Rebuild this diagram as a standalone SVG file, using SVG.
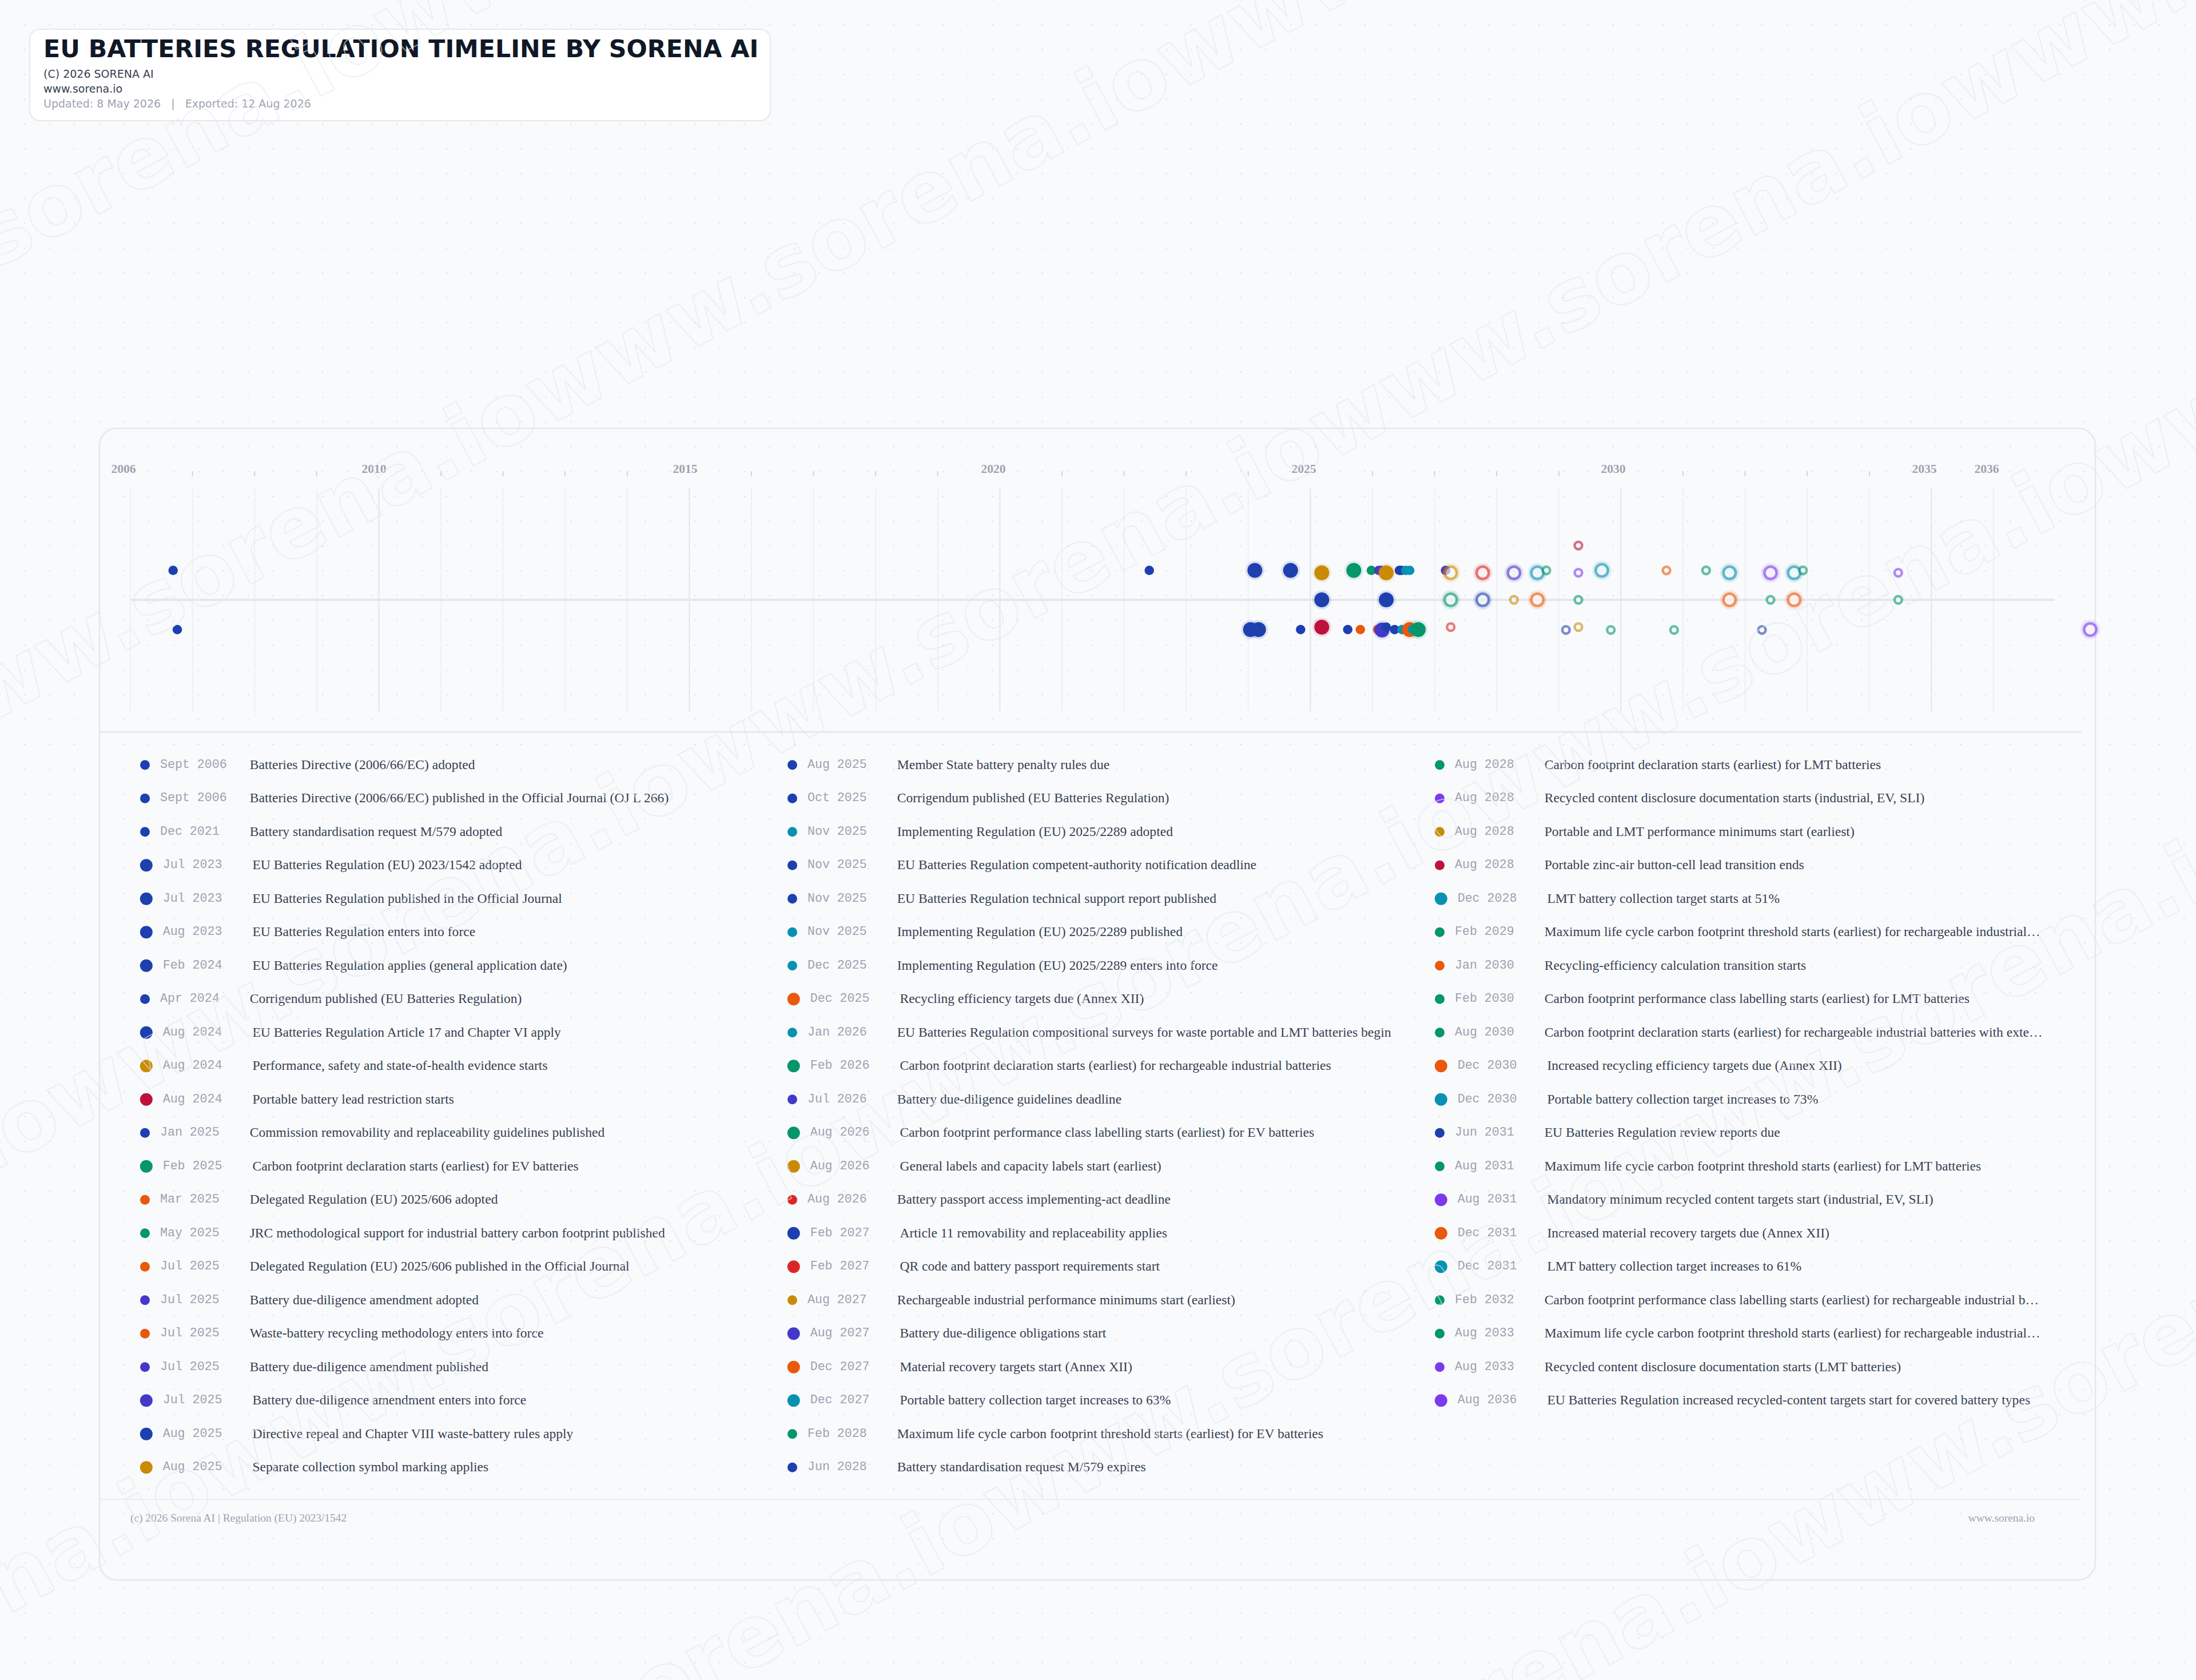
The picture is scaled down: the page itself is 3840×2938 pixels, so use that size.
<svg xmlns="http://www.w3.org/2000/svg" width="3840" height="2938" viewBox="0 0 3840 2938">
<style>
.t-title{font-family:"DejaVu Sans",sans-serif;font-weight:bold;font-size:42.7px;fill:#111827}
.t-sub{font-family:"DejaVu Sans",sans-serif;font-size:19px;fill:#374151}
.t-meta{font-family:"DejaVu Sans",sans-serif;font-size:19px;fill:#9ca3af;white-space:pre}
.yr{font-family:"Liberation Serif",serif;font-weight:bold;font-size:21.6px;fill:#9ca3af;text-anchor:middle}
.gmin{stroke:#eef1f4;stroke-width:2}
.gmaj{stroke:#e2e5e9;stroke-width:2}
.tick{stroke:#d1d5db;stroke-width:2}
.axis{stroke:#e5e7eb;stroke-width:4}
.ld{font-family:"Liberation Mono",monospace;font-size:21.6px;fill:#9ca3af}
.ll{font-family:"Liberation Serif",serif;font-size:23.6px;fill:#374151}
.ft{font-family:"Liberation Serif",serif;font-size:19.4px;fill:#9ca3af}
.wm{font-family:"DejaVu Sans",sans-serif;font-weight:bold;font-size:150px;fill:none;stroke:#e3e7ec;stroke-width:1.8;opacity:.6}
.blue{fill:#1e40af}.gold{fill:#ca8a04}.crim{fill:#be123c}.green{fill:#059669}.orange{fill:#ea580c}.indigo{fill:#4338ca}.teal{fill:#0891b2}.red{fill:#dc2626}.purple{fill:#7c3aed}
.s-blue{stroke:#1e40af}.s-gold{stroke:#ca8a04}.s-crim{stroke:#be123c}.s-green{stroke:#059669}.s-orange{stroke:#ea580c}.s-indigo{stroke:#4338ca}.s-teal{stroke:#0891b2}.s-red{stroke:#dc2626}.s-purple{stroke:#7c3aed}
.halo{opacity:.13}
.ring{fill:#ffffff;stroke-width:4.6;opacity:.58}
</style>
<defs>
<pattern id="dotgrid" x="-21.7" y="-21.7" width="43.4" height="43.4" patternUnits="userSpaceOnUse">
<circle cx="21.7" cy="21.7" r="1.1" fill="#cfd5dd"/>
</pattern>
</defs>
<rect width="3840" height="2938" fill="#f8fafc"/>
<rect width="3840" height="2938" fill="url(#dotgrid)"/>

<g id="header">
<rect x="52" y="51" width="1295" height="160" rx="18" fill="#ffffff" stroke="#e5e7eb" stroke-width="2"/>
<text x="76" y="100" class="t-title">EU BATTERIES REGULATION TIMELINE BY SORENA AI</text>
<text x="76" y="136" class="t-sub">(C) 2026 SORENA AI</text>
<text x="76" y="162" class="t-sub">www.sorena.io</text>
<text x="76" y="188" class="t-meta">Updated: 8 May 2026   |   Exported: 12 Aug 2026</text>
</g>

<g id="timeline-card">
<rect x="174" y="749" width="3490" height="2014" rx="30" fill="none" stroke="#e5e7eb" stroke-width="2.5"/>
<line x1="174" y1="1280" x2="3640" y2="1280" stroke="#e5e7eb" stroke-width="3"/>
<line x1="174" y1="2622" x2="3640" y2="2622" stroke="#eceef1" stroke-width="2"/>
</g>

<g id="grid">
<line class="gmin" x1="228" y1="854" x2="228" y2="1244"/>
<line class="gmin" x1="336.6" y1="854" x2="336.6" y2="1244"/>
<line class="gmin" x1="445.2" y1="854" x2="445.2" y2="1244"/>
<line class="gmin" x1="553.8" y1="854" x2="553.8" y2="1244"/>
<line class="gmaj" x1="662.4" y1="854" x2="662.4" y2="1244"/>
<line class="gmin" x1="771" y1="854" x2="771" y2="1244"/>
<line class="gmin" x1="879.6" y1="854" x2="879.6" y2="1244"/>
<line class="gmin" x1="988.2" y1="854" x2="988.2" y2="1244"/>
<line class="gmin" x1="1096.8" y1="854" x2="1096.8" y2="1244"/>
<line class="gmaj" x1="1205.4" y1="854" x2="1205.4" y2="1244"/>
<line class="gmin" x1="1314" y1="854" x2="1314" y2="1244"/>
<line class="gmin" x1="1422.6" y1="854" x2="1422.6" y2="1244"/>
<line class="gmin" x1="1531.2" y1="854" x2="1531.2" y2="1244"/>
<line class="gmin" x1="1639.8" y1="854" x2="1639.8" y2="1244"/>
<line class="gmaj" x1="1748.4" y1="854" x2="1748.4" y2="1244"/>
<line class="gmin" x1="1857" y1="854" x2="1857" y2="1244"/>
<line class="gmin" x1="1965.6" y1="854" x2="1965.6" y2="1244"/>
<line class="gmin" x1="2074.2" y1="854" x2="2074.2" y2="1244"/>
<line class="gmin" x1="2182.8" y1="854" x2="2182.8" y2="1244"/>
<line class="gmaj" x1="2291.4" y1="854" x2="2291.4" y2="1244"/>
<line class="gmin" x1="2400" y1="854" x2="2400" y2="1244"/>
<line class="gmin" x1="2508.6" y1="854" x2="2508.6" y2="1244"/>
<line class="gmin" x1="2617.2" y1="854" x2="2617.2" y2="1244"/>
<line class="gmin" x1="2725.8" y1="854" x2="2725.8" y2="1244"/>
<line class="gmaj" x1="2834.4" y1="854" x2="2834.4" y2="1244"/>
<line class="gmin" x1="2943" y1="854" x2="2943" y2="1244"/>
<line class="gmin" x1="3051.6" y1="854" x2="3051.6" y2="1244"/>
<line class="gmin" x1="3160.2" y1="854" x2="3160.2" y2="1244"/>
<line class="gmin" x1="3268.8" y1="854" x2="3268.8" y2="1244"/>
<line class="gmaj" x1="3377.4" y1="854" x2="3377.4" y2="1244"/>
<line class="gmin" x1="3486" y1="854" x2="3486" y2="1244"/>
</g>

<g id="ticks">
<line class="tick" x1="336.6" y1="824" x2="336.6" y2="833"/>
<line class="tick" x1="445.2" y1="824" x2="445.2" y2="833"/>
<line class="tick" x1="553.8" y1="824" x2="553.8" y2="833"/>
<line class="tick" x1="771" y1="824" x2="771" y2="833"/>
<line class="tick" x1="879.6" y1="824" x2="879.6" y2="833"/>
<line class="tick" x1="988.2" y1="824" x2="988.2" y2="833"/>
<line class="tick" x1="1096.8" y1="824" x2="1096.8" y2="833"/>
<line class="tick" x1="1314" y1="824" x2="1314" y2="833"/>
<line class="tick" x1="1422.6" y1="824" x2="1422.6" y2="833"/>
<line class="tick" x1="1531.2" y1="824" x2="1531.2" y2="833"/>
<line class="tick" x1="1639.8" y1="824" x2="1639.8" y2="833"/>
<line class="tick" x1="1857" y1="824" x2="1857" y2="833"/>
<line class="tick" x1="1965.6" y1="824" x2="1965.6" y2="833"/>
<line class="tick" x1="2074.2" y1="824" x2="2074.2" y2="833"/>
<line class="tick" x1="2182.8" y1="824" x2="2182.8" y2="833"/>
<line class="tick" x1="2400" y1="824" x2="2400" y2="833"/>
<line class="tick" x1="2508.6" y1="824" x2="2508.6" y2="833"/>
<line class="tick" x1="2617.2" y1="824" x2="2617.2" y2="833"/>
<line class="tick" x1="2725.8" y1="824" x2="2725.8" y2="833"/>
<line class="tick" x1="2943" y1="824" x2="2943" y2="833"/>
<line class="tick" x1="3051.6" y1="824" x2="3051.6" y2="833"/>
<line class="tick" x1="3160.2" y1="824" x2="3160.2" y2="833"/>
<line class="tick" x1="3268.8" y1="824" x2="3268.8" y2="833"/>
</g>

<g id="year-labels">
<text class="yr" x="216" y="827">2006</text>
<text class="yr" x="654" y="827">2010</text>
<text class="yr" x="1198" y="827">2015</text>
<text class="yr" x="1737" y="827">2020</text>
<text class="yr" x="2280" y="827">2025</text>
<text class="yr" x="2821" y="827">2030</text>
<text class="yr" x="3365" y="827">2035</text>
<text class="yr" x="3474" y="827">2036</text>
</g>

<g id="connectors">
<line class="axis" x1="228" y1="1049" x2="3593" y2="1049"/>
</g>

<g id="timeline-nodes">
<g id="ev01" transform="translate(302.7,997.5)"><circle r="8.3" class="blue"/></g>
<g id="ev02" transform="translate(310,1101)"><circle r="8.3" class="blue"/></g>
<g id="ev03" transform="translate(2009.7,997.5)"><circle r="8.3" class="blue"/></g>
<g id="ev04" transform="translate(2186.7,1101)"><circle r="16.7" class="blue halo"/><circle r="13" class="blue"/></g>
<g id="ev05" transform="translate(2194.3,997.5)"><circle r="16.7" class="blue halo"/><circle r="13" class="blue"/></g>
<g id="ev06" transform="translate(2200.7,1101)"><circle r="16.7" class="blue halo"/><circle r="13" class="blue"/></g>
<g id="ev07" transform="translate(2256.7,997.5)"><circle r="16.7" class="blue halo"/><circle r="13" class="blue"/></g>
<g id="ev08" transform="translate(2274.3,1101)"><circle r="8.3" class="blue"/></g>
<g id="ev09" transform="translate(2311.3,1049)"><circle r="16.7" class="blue halo"/><circle r="13" class="blue"/></g>
<g id="ev10" transform="translate(2311.3,1001.7)"><circle r="16.7" class="gold halo"/><circle r="13" class="gold"/></g>
<g id="ev11" transform="translate(2311.3,1096.7)"><circle r="16.7" class="crim halo"/><circle r="13" class="crim"/></g>
<g id="ev12" transform="translate(2356.7,1101)"><circle r="8.3" class="blue"/></g>
<g id="ev13" transform="translate(2367.3,997.5)"><circle r="16.7" class="green halo"/><circle r="13" class="green"/></g>
<g id="ev14" transform="translate(2378.7,1101)"><circle r="8.3" class="orange"/></g>
<g id="ev15" transform="translate(2398,997.5)"><circle r="8.3" class="green"/></g>
<g id="ev16" transform="translate(2409,1101)"><circle r="8.3" class="orange"/></g>
<g id="ev17" transform="translate(2411,997.5)"><circle r="8.3" class="indigo"/></g>
<g id="ev18" transform="translate(2412,1101)"><circle r="8.3" class="orange"/></g>
<g id="ev19" transform="translate(2415,997.5)"><circle r="8.3" class="indigo"/></g>
<g id="ev20" transform="translate(2416.7,1101.7)"><circle r="16.7" class="indigo halo"/><circle r="13" class="indigo"/></g>
<g id="ev21" transform="translate(2424,1049)"><circle r="16.7" class="blue halo"/><circle r="13" class="blue"/></g>
<g id="ev22" transform="translate(2424,1001.7)"><circle r="16.7" class="gold halo"/><circle r="13" class="gold"/></g>
<g id="ev23" transform="translate(2424,1096.7)"><circle r="8.3" class="blue"/></g>
<g id="ev24" transform="translate(2438.7,1101)"><circle r="8.3" class="blue"/></g>
<g id="ev25" transform="translate(2451.7,1101)"><circle r="8.3" class="teal"/></g>
<g id="ev26" transform="translate(2447,997.5)"><circle r="8.3" class="blue"/></g>
<g id="ev27" transform="translate(2450.7,997.5)"><circle r="8.3" class="blue"/></g>
<g id="ev28" transform="translate(2458.3,997.5)"><circle r="8.3" class="teal"/></g>
<g id="ev29" transform="translate(2465,997.5)"><circle r="8.3" class="teal"/></g>
<g id="ev30" transform="translate(2465,1101)"><circle r="16.7" class="orange halo"/><circle r="13" class="orange"/></g>
<g id="ev31" transform="translate(2470,1101)"><circle r="8.3" class="teal"/></g>
<g id="ev32" transform="translate(2480,1101)"><circle r="16.7" class="green halo"/><circle r="13" class="green"/></g>
<g id="ev33" transform="translate(2527.7,997.5)"><circle r="8.3" class="indigo"/></g>
<g id="ev34" transform="translate(2536.7,1049)"><circle r="16.7" class="green halo"/><circle r="10.7" class="ring s-green"/></g>
<g id="ev35" transform="translate(2536.7,1001.7)"><circle r="16.7" class="gold halo"/><circle r="10.7" class="ring s-gold"/></g>
<g id="ev36" transform="translate(2536.7,1096.7)"><circle r="6.4" class="ring s-red"/></g>
<g id="ev37" transform="translate(2592.7,1049)"><circle r="16.7" class="blue halo"/><circle r="10.7" class="ring s-blue"/></g>
<g id="ev38" transform="translate(2592.7,1001.7)"><circle r="16.7" class="red halo"/><circle r="10.7" class="ring s-red"/></g>
<g id="ev39" transform="translate(2647.3,1049)"><circle r="6.4" class="ring s-gold"/></g>
<g id="ev40" transform="translate(2647.3,1001.7)"><circle r="16.7" class="indigo halo"/><circle r="10.7" class="ring s-indigo"/></g>
<g id="ev41" transform="translate(2688.3,1049)"><circle r="16.7" class="orange halo"/><circle r="10.7" class="ring s-orange"/></g>
<g id="ev42" transform="translate(2688.3,1001.7)"><circle r="16.7" class="teal halo"/><circle r="10.7" class="ring s-teal"/></g>
<g id="ev43" transform="translate(2704,997.5)"><circle r="6.4" class="ring s-green"/></g>
<g id="ev44" transform="translate(2738.3,1101.7)"><circle r="6.4" class="ring s-blue"/></g>
<g id="ev45" transform="translate(2760,1049)"><circle r="6.4" class="ring s-green"/></g>
<g id="ev46" transform="translate(2760,1001.7)"><circle r="6.4" class="ring s-purple"/></g>
<g id="ev47" transform="translate(2760,1096.7)"><circle r="6.4" class="ring s-gold"/></g>
<g id="ev48" transform="translate(2760,954)"><circle r="6.4" class="ring s-crim"/></g>
<g id="ev49" transform="translate(2801,997.5)"><circle r="16.7" class="teal halo"/><circle r="10.7" class="ring s-teal"/></g>
<g id="ev50" transform="translate(2816.7,1101.7)"><circle r="6.4" class="ring s-green"/></g>
<g id="ev51" transform="translate(2914,997.5)"><circle r="6.4" class="ring s-orange"/></g>
<g id="ev52" transform="translate(2927.3,1101.7)"><circle r="6.4" class="ring s-green"/></g>
<g id="ev53" transform="translate(2983.3,997.5)"><circle r="6.4" class="ring s-green"/></g>
<g id="ev54" transform="translate(3024.3,1049)"><circle r="16.7" class="orange halo"/><circle r="10.7" class="ring s-orange"/></g>
<g id="ev55" transform="translate(3024.3,1001.7)"><circle r="16.7" class="teal halo"/><circle r="10.7" class="ring s-teal"/></g>
<g id="ev56" transform="translate(3081,1101.7)"><circle r="6.4" class="ring s-blue"/></g>
<g id="ev57" transform="translate(3096,1049)"><circle r="6.4" class="ring s-green"/></g>
<g id="ev58" transform="translate(3096,1001.7)"><circle r="16.7" class="purple halo"/><circle r="10.7" class="ring s-purple"/></g>
<g id="ev59" transform="translate(3137.3,1049)"><circle r="16.7" class="orange halo"/><circle r="10.7" class="ring s-orange"/></g>
<g id="ev60" transform="translate(3137.3,1001.7)"><circle r="16.7" class="teal halo"/><circle r="10.7" class="ring s-teal"/></g>
<g id="ev61" transform="translate(3152.7,997.5)"><circle r="6.4" class="ring s-green"/></g>
<g id="ev62" transform="translate(3319.3,1049)"><circle r="6.4" class="ring s-green"/></g>
<g id="ev63" transform="translate(3319.3,1001.7)"><circle r="6.4" class="ring s-purple"/></g>
<g id="ev64" transform="translate(3655,1101)"><circle r="16.7" class="purple halo"/><circle r="10.7" class="ring s-purple"/></g>
</g>

<g id="legend">
<g id="lg1-01" transform="translate(244.8,1337.7)"><circle cx="8.7" r="8.5" class="blue"/><text x="35.2" y="5" class="ld">Sept 2006</text><text x="191.9" y="7" class="ll">Batteries Directive (2006/66/EC) adopted</text></g>
<g id="lg1-02" transform="translate(244.8,1396.2)"><circle cx="8.7" r="8.5" class="blue"/><text x="35.2" y="5" class="ld">Sept 2006</text><text x="191.9" y="7" class="ll">Batteries Directive (2006/66/EC) published in the Official Journal (OJ L 266)</text></g>
<g id="lg1-03" transform="translate(244.8,1454.7)"><circle cx="8.7" r="8.5" class="blue"/><text x="35.2" y="5" class="ld">Dec 2021</text><text x="191.9" y="7" class="ll">Battery standardisation request M/579 adopted</text></g>
<g id="lg1-04" transform="translate(244.8,1513.2)"><circle cx="11" r="11" class="blue"/><text x="39.9" y="5" class="ld">Jul 2023</text><text x="196.6" y="7" class="ll">EU Batteries Regulation (EU) 2023/1542 adopted</text></g>
<g id="lg1-05" transform="translate(244.8,1571.7)"><circle cx="11" r="11" class="blue"/><text x="39.9" y="5" class="ld">Jul 2023</text><text x="196.6" y="7" class="ll">EU Batteries Regulation published in the Official Journal</text></g>
<g id="lg1-06" transform="translate(244.8,1630.2)"><circle cx="11" r="11" class="blue"/><text x="39.9" y="5" class="ld">Aug 2023</text><text x="196.6" y="7" class="ll">EU Batteries Regulation enters into force</text></g>
<g id="lg1-07" transform="translate(244.8,1688.7)"><circle cx="11" r="11" class="blue"/><text x="39.9" y="5" class="ld">Feb 2024</text><text x="196.6" y="7" class="ll">EU Batteries Regulation applies (general application date)</text></g>
<g id="lg1-08" transform="translate(244.8,1747.2)"><circle cx="8.7" r="8.5" class="blue"/><text x="35.2" y="5" class="ld">Apr 2024</text><text x="191.9" y="7" class="ll">Corrigendum published (EU Batteries Regulation)</text></g>
<g id="lg1-09" transform="translate(244.8,1805.7)"><circle cx="11" r="11" class="blue"/><text x="39.9" y="5" class="ld">Aug 2024</text><text x="196.6" y="7" class="ll">EU Batteries Regulation Article 17 and Chapter VI apply</text></g>
<g id="lg1-10" transform="translate(244.8,1864.2)"><circle cx="11" r="11" class="gold"/><text x="39.9" y="5" class="ld">Aug 2024</text><text x="196.6" y="7" class="ll">Performance, safety and state-of-health evidence starts</text></g>
<g id="lg1-11" transform="translate(244.8,1922.7)"><circle cx="11" r="11" class="crim"/><text x="39.9" y="5" class="ld">Aug 2024</text><text x="196.6" y="7" class="ll">Portable battery lead restriction starts</text></g>
<g id="lg1-12" transform="translate(244.8,1981.2)"><circle cx="8.7" r="8.5" class="blue"/><text x="35.2" y="5" class="ld">Jan 2025</text><text x="191.9" y="7" class="ll">Commission removability and replaceability guidelines published</text></g>
<g id="lg1-13" transform="translate(244.8,2039.7)"><circle cx="11" r="11" class="green"/><text x="39.9" y="5" class="ld">Feb 2025</text><text x="196.6" y="7" class="ll">Carbon footprint declaration starts (earliest) for EV batteries</text></g>
<g id="lg1-14" transform="translate(244.8,2098.2)"><circle cx="8.7" r="8.5" class="orange"/><text x="35.2" y="5" class="ld">Mar 2025</text><text x="191.9" y="7" class="ll">Delegated Regulation (EU) 2025/606 adopted</text></g>
<g id="lg1-15" transform="translate(244.8,2156.7)"><circle cx="8.7" r="8.5" class="green"/><text x="35.2" y="5" class="ld">May 2025</text><text x="191.9" y="7" class="ll">JRC methodological support for industrial battery carbon footprint published</text></g>
<g id="lg1-16" transform="translate(244.8,2215.2)"><circle cx="8.7" r="8.5" class="orange"/><text x="35.2" y="5" class="ld">Jul 2025</text><text x="191.9" y="7" class="ll">Delegated Regulation (EU) 2025/606 published in the Official Journal</text></g>
<g id="lg1-17" transform="translate(244.8,2273.7)"><circle cx="8.7" r="8.5" class="indigo"/><text x="35.2" y="5" class="ld">Jul 2025</text><text x="191.9" y="7" class="ll">Battery due-diligence amendment adopted</text></g>
<g id="lg1-18" transform="translate(244.8,2332.2)"><circle cx="8.7" r="8.5" class="orange"/><text x="35.2" y="5" class="ld">Jul 2025</text><text x="191.9" y="7" class="ll">Waste-battery recycling methodology enters into force</text></g>
<g id="lg1-19" transform="translate(244.8,2390.7)"><circle cx="8.7" r="8.5" class="indigo"/><text x="35.2" y="5" class="ld">Jul 2025</text><text x="191.9" y="7" class="ll">Battery due-diligence amendment published</text></g>
<g id="lg1-20" transform="translate(244.8,2449.2)"><circle cx="11" r="11" class="indigo"/><text x="39.9" y="5" class="ld">Jul 2025</text><text x="196.6" y="7" class="ll">Battery due-diligence amendment enters into force</text></g>
<g id="lg1-21" transform="translate(244.8,2507.7)"><circle cx="11" r="11" class="blue"/><text x="39.9" y="5" class="ld">Aug 2025</text><text x="196.6" y="7" class="ll">Directive repeal and Chapter VIII waste-battery rules apply</text></g>
<g id="lg1-22" transform="translate(244.8,2566.2)"><circle cx="11" r="11" class="gold"/><text x="39.9" y="5" class="ld">Aug 2025</text><text x="196.6" y="7" class="ll">Separate collection symbol marking applies</text></g>

<g id="lg2-01" transform="translate(1376.8,1337.7)"><circle cx="8.7" r="8.5" class="blue"/><text x="35.2" y="5" class="ld">Aug 2025</text><text x="191.9" y="7" class="ll">Member State battery penalty rules due</text></g>
<g id="lg2-02" transform="translate(1376.8,1396.2)"><circle cx="8.7" r="8.5" class="blue"/><text x="35.2" y="5" class="ld">Oct 2025</text><text x="191.9" y="7" class="ll">Corrigendum published (EU Batteries Regulation)</text></g>
<g id="lg2-03" transform="translate(1376.8,1454.7)"><circle cx="8.7" r="8.5" class="teal"/><text x="35.2" y="5" class="ld">Nov 2025</text><text x="191.9" y="7" class="ll">Implementing Regulation (EU) 2025/2289 adopted</text></g>
<g id="lg2-04" transform="translate(1376.8,1513.2)"><circle cx="8.7" r="8.5" class="blue"/><text x="35.2" y="5" class="ld">Nov 2025</text><text x="191.9" y="7" class="ll">EU Batteries Regulation competent-authority notification deadline</text></g>
<g id="lg2-05" transform="translate(1376.8,1571.7)"><circle cx="8.7" r="8.5" class="blue"/><text x="35.2" y="5" class="ld">Nov 2025</text><text x="191.9" y="7" class="ll">EU Batteries Regulation technical support report published</text></g>
<g id="lg2-06" transform="translate(1376.8,1630.2)"><circle cx="8.7" r="8.5" class="teal"/><text x="35.2" y="5" class="ld">Nov 2025</text><text x="191.9" y="7" class="ll">Implementing Regulation (EU) 2025/2289 published</text></g>
<g id="lg2-07" transform="translate(1376.8,1688.7)"><circle cx="8.7" r="8.5" class="teal"/><text x="35.2" y="5" class="ld">Dec 2025</text><text x="191.9" y="7" class="ll">Implementing Regulation (EU) 2025/2289 enters into force</text></g>
<g id="lg2-08" transform="translate(1376.8,1747.2)"><circle cx="11" r="11" class="orange"/><text x="39.9" y="5" class="ld">Dec 2025</text><text x="196.6" y="7" class="ll">Recycling efficiency targets due (Annex XII)</text></g>
<g id="lg2-09" transform="translate(1376.8,1805.7)"><circle cx="8.7" r="8.5" class="teal"/><text x="35.2" y="5" class="ld">Jan 2026</text><text x="191.9" y="7" class="ll">EU Batteries Regulation compositional surveys for waste portable and LMT batteries begin</text></g>
<g id="lg2-10" transform="translate(1376.8,1864.2)"><circle cx="11" r="11" class="green"/><text x="39.9" y="5" class="ld">Feb 2026</text><text x="196.6" y="7" class="ll">Carbon footprint declaration starts (earliest) for rechargeable industrial batteries</text></g>
<g id="lg2-11" transform="translate(1376.8,1922.7)"><circle cx="8.7" r="8.5" class="indigo"/><text x="35.2" y="5" class="ld">Jul 2026</text><text x="191.9" y="7" class="ll">Battery due-diligence guidelines deadline</text></g>
<g id="lg2-12" transform="translate(1376.8,1981.2)"><circle cx="11" r="11" class="green"/><text x="39.9" y="5" class="ld">Aug 2026</text><text x="196.6" y="7" class="ll">Carbon footprint performance class labelling starts (earliest) for EV batteries</text></g>
<g id="lg2-13" transform="translate(1376.8,2039.7)"><circle cx="11" r="11" class="gold"/><text x="39.9" y="5" class="ld">Aug 2026</text><text x="196.6" y="7" class="ll">General labels and capacity labels start (earliest)</text></g>
<g id="lg2-14" transform="translate(1376.8,2098.2)"><circle cx="8.7" r="8.5" class="red"/><text x="35.2" y="5" class="ld">Aug 2026</text><text x="191.9" y="7" class="ll">Battery passport access implementing-act deadline</text></g>
<g id="lg2-15" transform="translate(1376.8,2156.7)"><circle cx="11" r="11" class="blue"/><text x="39.9" y="5" class="ld">Feb 2027</text><text x="196.6" y="7" class="ll">Article 11 removability and replaceability applies</text></g>
<g id="lg2-16" transform="translate(1376.8,2215.2)"><circle cx="11" r="11" class="red"/><text x="39.9" y="5" class="ld">Feb 2027</text><text x="196.6" y="7" class="ll">QR code and battery passport requirements start</text></g>
<g id="lg2-17" transform="translate(1376.8,2273.7)"><circle cx="8.7" r="8.5" class="gold"/><text x="35.2" y="5" class="ld">Aug 2027</text><text x="191.9" y="7" class="ll">Rechargeable industrial performance minimums start (earliest)</text></g>
<g id="lg2-18" transform="translate(1376.8,2332.2)"><circle cx="11" r="11" class="indigo"/><text x="39.9" y="5" class="ld">Aug 2027</text><text x="196.6" y="7" class="ll">Battery due-diligence obligations start</text></g>
<g id="lg2-19" transform="translate(1376.8,2390.7)"><circle cx="11" r="11" class="orange"/><text x="39.9" y="5" class="ld">Dec 2027</text><text x="196.6" y="7" class="ll">Material recovery targets start (Annex XII)</text></g>
<g id="lg2-20" transform="translate(1376.8,2449.2)"><circle cx="11" r="11" class="teal"/><text x="39.9" y="5" class="ld">Dec 2027</text><text x="196.6" y="7" class="ll">Portable battery collection target increases to 63%</text></g>
<g id="lg2-21" transform="translate(1376.8,2507.7)"><circle cx="8.7" r="8.5" class="green"/><text x="35.2" y="5" class="ld">Feb 2028</text><text x="191.9" y="7" class="ll">Maximum life cycle carbon footprint threshold starts (earliest) for EV batteries</text></g>
<g id="lg2-22" transform="translate(1376.8,2566.2)"><circle cx="8.7" r="8.5" class="blue"/><text x="35.2" y="5" class="ld">Jun 2028</text><text x="191.9" y="7" class="ll">Battery standardisation request M/579 expires</text></g>

<g id="lg3-01" transform="translate(2508.8,1337.7)"><circle cx="8.7" r="8.5" class="green"/><text x="35.2" y="5" class="ld">Aug 2028</text><text x="191.9" y="7" class="ll">Carbon footprint declaration starts (earliest) for LMT batteries</text></g>
<g id="lg3-02" transform="translate(2508.8,1396.2)"><circle cx="8.7" r="8.5" class="purple"/><text x="35.2" y="5" class="ld">Aug 2028</text><text x="191.9" y="7" class="ll">Recycled content disclosure documentation starts (industrial, EV, SLI)</text></g>
<g id="lg3-03" transform="translate(2508.8,1454.7)"><circle cx="8.7" r="8.5" class="gold"/><text x="35.2" y="5" class="ld">Aug 2028</text><text x="191.9" y="7" class="ll">Portable and LMT performance minimums start (earliest)</text></g>
<g id="lg3-04" transform="translate(2508.8,1513.2)"><circle cx="8.7" r="8.5" class="crim"/><text x="35.2" y="5" class="ld">Aug 2028</text><text x="191.9" y="7" class="ll">Portable zinc-air button-cell lead transition ends</text></g>
<g id="lg3-05" transform="translate(2508.8,1571.7)"><circle cx="11" r="11" class="teal"/><text x="39.9" y="5" class="ld">Dec 2028</text><text x="196.6" y="7" class="ll">LMT battery collection target starts at 51%</text></g>
<g id="lg3-06" transform="translate(2508.8,1630.2)"><circle cx="8.7" r="8.5" class="green"/><text x="35.2" y="5" class="ld">Feb 2029</text><text x="191.9" y="7" class="ll">Maximum life cycle carbon footprint threshold starts (earliest) for rechargeable industrial…</text></g>
<g id="lg3-07" transform="translate(2508.8,1688.7)"><circle cx="8.7" r="8.5" class="orange"/><text x="35.2" y="5" class="ld">Jan 2030</text><text x="191.9" y="7" class="ll">Recycling-efficiency calculation transition starts</text></g>
<g id="lg3-08" transform="translate(2508.8,1747.2)"><circle cx="8.7" r="8.5" class="green"/><text x="35.2" y="5" class="ld">Feb 2030</text><text x="191.9" y="7" class="ll">Carbon footprint performance class labelling starts (earliest) for LMT batteries</text></g>
<g id="lg3-09" transform="translate(2508.8,1805.7)"><circle cx="8.7" r="8.5" class="green"/><text x="35.2" y="5" class="ld">Aug 2030</text><text x="191.9" y="7" class="ll">Carbon footprint declaration starts (earliest) for rechargeable industrial batteries with exte…</text></g>
<g id="lg3-10" transform="translate(2508.8,1864.2)"><circle cx="11" r="11" class="orange"/><text x="39.9" y="5" class="ld">Dec 2030</text><text x="196.6" y="7" class="ll">Increased recycling efficiency targets due (Annex XII)</text></g>
<g id="lg3-11" transform="translate(2508.8,1922.7)"><circle cx="11" r="11" class="teal"/><text x="39.9" y="5" class="ld">Dec 2030</text><text x="196.6" y="7" class="ll">Portable battery collection target increases to 73%</text></g>
<g id="lg3-12" transform="translate(2508.8,1981.2)"><circle cx="8.7" r="8.5" class="blue"/><text x="35.2" y="5" class="ld">Jun 2031</text><text x="191.9" y="7" class="ll">EU Batteries Regulation review reports due</text></g>
<g id="lg3-13" transform="translate(2508.8,2039.7)"><circle cx="8.7" r="8.5" class="green"/><text x="35.2" y="5" class="ld">Aug 2031</text><text x="191.9" y="7" class="ll">Maximum life cycle carbon footprint threshold starts (earliest) for LMT batteries</text></g>
<g id="lg3-14" transform="translate(2508.8,2098.2)"><circle cx="11" r="11" class="purple"/><text x="39.9" y="5" class="ld">Aug 2031</text><text x="196.6" y="7" class="ll">Mandatory minimum recycled content targets start (industrial, EV, SLI)</text></g>
<g id="lg3-15" transform="translate(2508.8,2156.7)"><circle cx="11" r="11" class="orange"/><text x="39.9" y="5" class="ld">Dec 2031</text><text x="196.6" y="7" class="ll">Increased material recovery targets due (Annex XII)</text></g>
<g id="lg3-16" transform="translate(2508.8,2215.2)"><circle cx="11" r="11" class="teal"/><text x="39.9" y="5" class="ld">Dec 2031</text><text x="196.6" y="7" class="ll">LMT battery collection target increases to 61%</text></g>
<g id="lg3-17" transform="translate(2508.8,2273.7)"><circle cx="8.7" r="8.5" class="green"/><text x="35.2" y="5" class="ld">Feb 2032</text><text x="191.9" y="7" class="ll">Carbon footprint performance class labelling starts (earliest) for rechargeable industrial b…</text></g>
<g id="lg3-18" transform="translate(2508.8,2332.2)"><circle cx="8.7" r="8.5" class="green"/><text x="35.2" y="5" class="ld">Aug 2033</text><text x="191.9" y="7" class="ll">Maximum life cycle carbon footprint threshold starts (earliest) for rechargeable industrial…</text></g>
<g id="lg3-19" transform="translate(2508.8,2390.7)"><circle cx="8.7" r="8.5" class="purple"/><text x="35.2" y="5" class="ld">Aug 2033</text><text x="191.9" y="7" class="ll">Recycled content disclosure documentation starts (LMT batteries)</text></g>
<g id="lg3-20" transform="translate(2508.8,2449.2)"><circle cx="11" r="11" class="purple"/><text x="39.9" y="5" class="ld">Aug 2036</text><text x="196.6" y="7" class="ll">EU Batteries Regulation increased recycled-content targets start for covered battery types</text></g>
</g>

<g id="footer">
<text x="228" y="2661" class="ft">(c) 2026 Sorena AI | Regulation (EU) 2023/1542</text>
<text x="3558" y="2661" class="ft" text-anchor="end">www.sorena.io</text>
</g>

<g id="watermark" transform="rotate(-28)">
<text class="wm" x="-1943" y="412">www.sorena.iowww.sorena.iowww.sorena.iowww.sorena.iowww.sorena.io</text>
<text class="wm" x="-2011" y="1108">www.sorena.iowww.sorena.iowww.sorena.iowww.sorena.iowww.sorena.io</text>
<text class="wm" x="-2079" y="1804">www.sorena.iowww.sorena.iowww.sorena.iowww.sorena.iowww.sorena.io</text>
<text class="wm" x="-2147" y="2500">www.sorena.iowww.sorena.iowww.sorena.iowww.sorena.iowww.sorena.io</text>
<text class="wm" x="-2215" y="3196">www.sorena.iowww.sorena.iowww.sorena.iowww.sorena.iowww.sorena.io</text>
<text class="wm" x="-2283" y="3892">www.sorena.iowww.sorena.iowww.sorena.iowww.sorena.iowww.sorena.io</text>
</g>
</svg>
